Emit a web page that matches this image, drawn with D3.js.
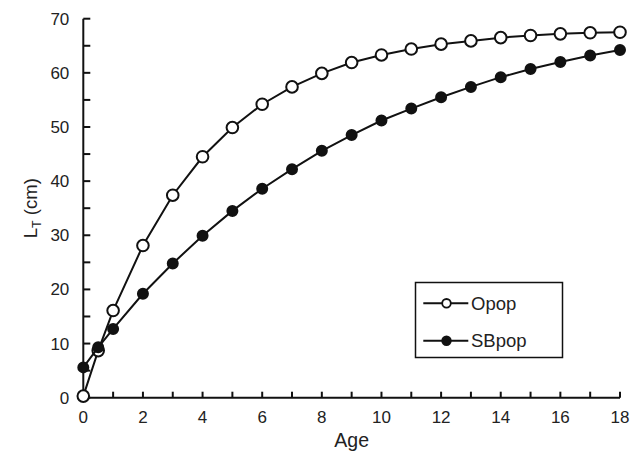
<!DOCTYPE html>
<html>
<head>
<meta charset="utf-8">
<script src="https://cdn.jsdelivr.net/npm/d3@7"></script>
<style>
  body { margin: 0; background: #fff; }
  svg { display: block; font-family: "Liberation Sans", Arial, sans-serif; }
</style>
</head>
<body>
<svg id="chart" width="641" height="454"></svg>
<script>
// Ages (years)
var ages = [0, 0.5, 1, 2, 3, 4, 5, 6, 7, 8, 9, 10, 11, 12, 13, 14, 15, 16, 17, 18];
// LT (cm) for each population
var opop = [0.3, 8.7, 16.1, 28.1, 37.4, 44.5, 49.9, 54.2, 57.4, 59.9, 61.9, 63.3, 64.4, 65.3, 65.9, 66.5, 66.9, 67.2, 67.4, 67.5];
var sbpop = [5.6, 9.3, 12.7, 19.2, 24.8, 29.9, 34.5, 38.6, 42.2, 45.6, 48.5, 51.2, 53.4, 55.5, 57.4, 59.2, 60.7, 62.0, 63.2, 64.2];
var xTicks = [0, 2, 4, 6, 8, 10, 12, 14, 16, 18];
var yTicks = [0, 10, 20, 30, 40, 50, 60, 70];
var seriesNames = ["Opop", "SBpop"];

var svg = d3.select("#chart");
var margin = { top: 18.7, right: 21, bottom: 56.3, left: 83.3 };
var width = 641, height = 454;

var x = d3.scaleLinear().domain([0, 18]).range([margin.left, width - margin.right]);
var y = d3.scaleLinear().domain([0, 70]).range([height - margin.bottom, margin.top]);

// x axis: line with inward ticks every year, labels on even years
var xg = svg.append("g");
xg.append("line")
  .attr("x1", x(0)).attr("x2", x(18))
  .attr("y1", y(0)).attr("y2", y(0))
  .attr("stroke", "#111").attr("stroke-width", 2);
xg.selectAll(".xt")
  .data(d3.range(0, 19))
  .enter().append("line")
  .attr("x1", (d) => x(d)).attr("x2", (d) => x(d))
  .attr("y1", y(0)).attr("y2", y(0) - 6)
  .attr("stroke", "#111").attr("stroke-width", 2);
xg.selectAll(".xl")
  .data(xTicks)
  .enter().append("text")
  .attr("x", (d) => x(d))
  .attr("y", y(0) + 25)
  .attr("text-anchor", "middle")
  .attr("font-size", 17)
  .attr("fill", "#222")
  .text((d) => d);

// y axis: major ticks every 10, minor every 5
var yg = svg.append("g");
yg.append("line")
  .attr("x1", x(0)).attr("x2", x(0))
  .attr("y1", y(0)).attr("y2", y(70))
  .attr("stroke", "#111").attr("stroke-width", 2);
yg.selectAll(".yt")
  .data(d3.range(0, 71, 5))
  .enter().append("line")
  .attr("x1", x(0)).attr("x2", x(0) + 7)
  .attr("y1", (d) => y(d)).attr("y2", (d) => y(d))
  .attr("stroke", "#111").attr("stroke-width", 2);
yg.selectAll(".yl")
  .data(yTicks)
  .enter().append("text")
  .attr("x", x(0) - 14)
  .attr("y", (d) => y(d) + 6)
  .attr("text-anchor", "end")
  .attr("font-size", 17)
  .attr("fill", "#222")
  .text((d) => d);

// axis titles
svg.append("text")
  .attr("x", (x(0) + x(18)) / 2)
  .attr("y", 447)
  .attr("text-anchor", "middle")
  .attr("font-size", 19.5)
  .attr("fill", "#222")
  .text("Age");

var yTitle = svg.append("text")
  .attr("transform", "translate(37," + (y(0) + y(70)) / 2 + ") rotate(-90)")
  .attr("text-anchor", "middle")
  .attr("font-size", 18.5)
  .attr("fill", "#222");
yTitle.append("tspan").text("L");
yTitle.append("tspan").attr("font-size", 12.5).attr("dy", 4).text("T");
yTitle.append("tspan").attr("dy", -4).text(" (cm)");

// series
var line = d3.line().x((d) => x(d[0])).y((d) => y(d[1]));
var series = [
  { name: seriesNames[0], values: ages.map((a, i) => [a, opop[i]]), fill: "#fff", r: 5.8 },
  { name: seriesNames[1], values: ages.map((a, i) => [a, sbpop[i]]), fill: "#111", r: 5 }
];

series.forEach(function (s) {
  svg.append("path")
    .datum(s.values)
    .attr("fill", "none")
    .attr("stroke", "#111")
    .attr("stroke-width", 2)
    .attr("d", line);
  svg.selectAll(".dot-" + s.name)
    .data(s.values)
    .enter().append("circle")
    .attr("cx", (d) => x(d[0]))
    .attr("cy", (d) => y(d[1]))
    .attr("r", s.r)
    .attr("fill", s.fill)
    .attr("stroke", "#111")
    .attr("stroke-width", 2);
});

// legend
var lg = svg.append("g");
lg.append("rect")
  .attr("x", 415.5).attr("y", 282.5)
  .attr("width", 147).attr("height", 75)
  .attr("fill", "#fff").attr("stroke", "#111").attr("stroke-width", 1.5);
series.forEach(function (s, i) {
  var cy = 303.3 + i * 37.4;
  lg.append("line")
    .attr("x1", 423.3).attr("x2", 468.3)
    .attr("y1", cy).attr("y2", cy)
    .attr("stroke", "#111").attr("stroke-width", 2);
  lg.append("circle")
    .attr("cx", 446.5).attr("cy", cy).attr("r", 4.3)
    .attr("fill", s.fill).attr("stroke", "#111").attr("stroke-width", 1.8);
  lg.append("text")
    .attr("x", 471)
    .attr("y", cy + 6.5)
    .attr("font-size", 18.5)
    .attr("fill", "#222")
    .text(s.name);
});
</script>
</body>
</html>
